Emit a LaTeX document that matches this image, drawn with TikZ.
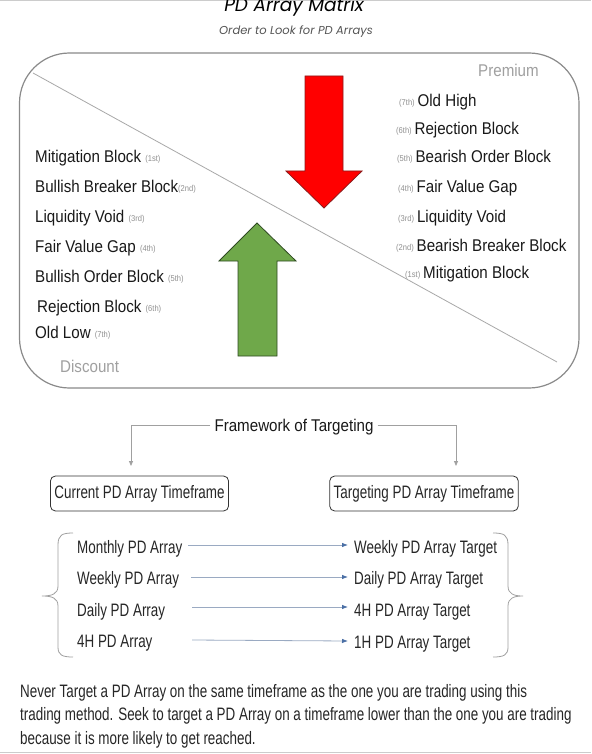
\documentclass[tikz,border=0pt]{standalone}
\usepackage{fontspec}
\setmainfont{Liberation Sans}
\newfontfamily\arialf[FakeStretch=0.89]{Liberation Sans}
\newfontfamily\condf[FakeStretch=0.745]{Liberation Sans}
\newfontfamily\titlef{Poppins}
\usetikzlibrary{arrows.meta,calc}
\definecolor{boxgray}{HTML}{8A8A8A}
\definecolor{diaggray}{HTML}{A8A8A8}
\definecolor{softgray}{HTML}{A0A0A0}
\definecolor{ordgray}{HTML}{909090}
\definecolor{redfill}{HTML}{FF0000}
\definecolor{redline}{HTML}{8B1A1A}
\definecolor{greenfill}{HTML}{6FA84A}
\definecolor{greenline}{HTML}{2F4A22}
\definecolor{arrowline}{HTML}{9AAAC2}
\definecolor{arrowtip}{HTML}{4A6FA5}
\definecolor{subgray}{HTML}{555555}
\tikzset{
  item/.style={anchor=base west,inner sep=0pt,font=\arialf\fontsize{17}{20}\selectfont,text=black!90},
  zone/.style={anchor=base west,inner sep=0pt,font=\arialf\fontsize{17}{20}\selectfont,text=softgray},
  condtext/.style={anchor=base west,inner sep=0pt,font=\condf\fontsize{18}{22}\selectfont,text=black!85},
  tfbox/.style={draw=black!80,line width=0.8pt,rounded corners=5pt,inner xsep=4pt,inner ysep=0pt,minimum height=35pt,font=\condf\fontsize{18}{22}\selectfont,text=black!85},
  fwlink/.style={draw=softgray,line width=0.8pt,-{Triangle[length=5pt,width=4pt]}},
  maparrow/.style={draw=arrowline,line width=0.8pt,-{Latex[length=6pt,width=4.5pt,color=arrowtip]}},
  brace/.style={draw=softgray,line width=0.8pt},
}
\newcommand{\ordtag}[1]{{\arialf\fontsize{8.5}{10}\selectfont\color{ordgray}\raisebox{1pt}{#1}}}
\begin{document}
\begin{tikzpicture}[x=1pt,y=-1pt]
\useasboundingbox (0,0) rectangle (591,754);
\clip (0,0) rectangle (591,754);
\fill[white] (0,0) rectangle (591,754);
% screenshot edges
\draw[black!20,line width=1.5pt] (0,0.5) -- (591,0.5);
\draw[black!20,line width=1pt] (0,752.5) -- (591,752.5);

% title
\node[inner sep=0pt,anchor=base,font=\titlef\fontsize{18.5}{22}\selectfont\itshape] (title) at (294,12) {PD Array Matrix};
\node[inner sep=0pt,anchor=base,font=\titlef\fontsize{11.5}{14}\selectfont\itshape,text=subgray] (subtitle) at (296,35) {Order to Look for PD Arrays};

% matrix frame
\draw[boxgray,line width=1.2pt,rounded corners=50pt] (19.5,53) rectangle (579,388);
\coordinate (d1) at (33,73);
\coordinate (d2) at (557,362);
\draw[diaggray,line width=0.8pt] (d1) -- (d2);

% arrows
\draw[redline,fill=redfill,line width=0.8pt] (305,76) -- (343,76) -- (343,171) -- (362,171) -- (324,208) -- (286,171) -- (305,171) -- cycle;
\draw[greenline,fill=greenfill,line width=0.8pt] (238,356) -- (277,356) -- (277,261) -- (296,261) -- (257,223) -- (219,261) -- (238,261) -- cycle;

% zone labels
\node[zone] (premium) at (478,77) {Premium};
\node[zone] (discount) at (60,372) {Discount};

% left (bullish) list
\node[item] (l1) at (35,163) {Mitigation Block \ordtag{(1st)}};
\node[item] (l2) at (35,192) {Bullish Breaker Block\ordtag{(2nd)}};
\node[item] (l3) at (35,222) {Liquidity Void \ordtag{(3rd)}};
\node[item] (l4) at (35,252) {Fair Value Gap \ordtag{(4th)}};
\node[item] (l5) at (35,282) {Bullish Order Block \ordtag{(5th)}};
\node[item] (l6) at (37,312) {Rejection Block \ordtag{(6th)}};
\node[item] (l7) at (35,338) {Old Low \ordtag{(7th)}};

% right (bearish) list
\node[item] (r7) at (399,107) {\ordtag{(7th)}\,Old High};
\node[item] (r6) at (396,135) {\ordtag{(6th)}\,Rejection Block};
\node[item] (r5) at (397,163) {\ordtag{(5th)}\,Bearish Order Block};
\node[item] (r4) at (398,192) {\ordtag{(4th)}\,Fair Value Gap};
\node[item] (r3) at (398,222) {\ordtag{(3rd)}\,Liquidity Void};
\node[item] (r2) at (396,251) {\ordtag{(2nd)}\,Bearish Breaker Block};
\node[item] (r1) at (405,278) {\ordtag{(1st)}\,Mitigation Block};

% framework
\node[inner sep=4pt,anchor=base,font=\arialf\fontsize{17}{20}\selectfont,text=black!90] (fw) at (294,431) {Framework of Targeting};
\node[tfbox] (cur) at (139.5,493.5) {Current PD Array Timeframe};
\node[tfbox] (tgt) at (424,493.5) {Targeting PD Array Timeframe};
\coordinate (cl) at (131,466);
\coordinate (cr) at (456,466);
\draw[fwlink] ([yshift=1pt]fw.west) -| (cl);
\draw[fwlink] ([yshift=1pt]fw.east) -| (cr);

% timeframe map
\node[condtext] (m1) at (77,553) {Monthly PD Array};
\node[condtext] (m2) at (77,584) {Weekly PD Array};
\node[condtext] (m3) at (77,616) {Daily PD Array};
\node[condtext] (m4) at (77,647) {4H PD Array};
\node[condtext] (t1) at (354,553) {Weekly PD Array Target};
\node[condtext] (t2) at (354,584) {Daily PD Array Target};
\node[condtext] (t3) at (354,616) {4H PD Array Target};
\node[condtext] (t4) at (354,648) {1H PD Array Target};
\draw[maparrow] ([xshift=111pt,yshift=8pt]m1.base west) -- ([xshift=-6pt,yshift=8pt]t1.base west);
\draw[maparrow] ([xshift=114pt,yshift=7pt]m2.base west) -- ([xshift=-6pt,yshift=7pt]t2.base west);
\draw[maparrow] ([xshift=115pt,yshift=9pt]m3.base west) -- ([xshift=-6pt,yshift=9pt]t3.base west);
\draw[maparrow] ([xshift=115pt,yshift=7pt]m4.base west) -- ([xshift=-6pt,yshift=7pt]t4.base west);

% braces
\draw[brace] (73,533) .. controls (62,533) and (58,535) .. (58,545) -- (58,586) .. controls (58,594) and (52,596) .. (42,596) .. controls (52,596) and (58,598) .. (58,606) -- (58,647) .. controls (58,655) and (62,657) .. (73,657);
\draw[brace] (493,533) .. controls (504,533) and (508,535) .. (508,545) -- (508,586) .. controls (508,594) and (514,596) .. (523,596) .. controls (514,596) and (508,598) .. (508,606) -- (508,647) .. controls (508,655) and (504,657) .. (493,657);

% note
\node[condtext] (p1) at (20,697) {Never Target a PD Array on the same timeframe as the one you are trading using this};
\node[condtext] (p2) at (20,720.5) {trading method. Seek to target a PD Array on a timeframe lower than the one you are trading};
\node[condtext] (p3) at (20,744) {because it is more likely to get reached.};
\end{tikzpicture}
\end{document}
